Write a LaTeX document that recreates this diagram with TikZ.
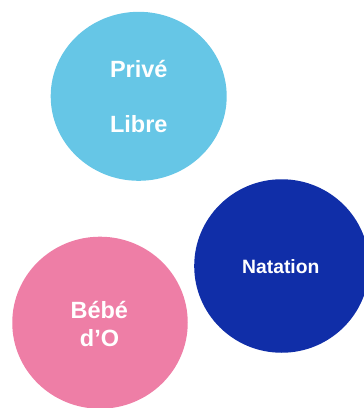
\documentclass[tikz,border=0pt]{standalone}
\usepackage{fontspec}
\setmainfont{Liberation Sans}
\usetikzlibrary{shapes.geometric}
\definecolor{cLight}{HTML}{66C6E6}
\definecolor{cDark}{HTML}{102EA8}
\definecolor{cPink}{HTML}{EE7EA6}
\begin{document}
\begin{tikzpicture}[x=1pt,y=-1pt,
  blob/.style={ellipse,draw=none,inner sep=0pt},
  lbl/.style={text=white,font=\bfseries\fontsize{23.5}{25}\selectfont,anchor=base,inner sep=0pt}]
\useasboundingbox (0,0) rectangle (364,408);
\clip (0,0) rectangle (364,408);
\node[blob,fill=cLight,minimum width=176pt,minimum height=169pt] (c1) at (138.7,96.3) {};
\node[blob,fill=cDark,minimum width=175pt,minimum height=173.5pt] (c2) at (281.7,266) {};
\node[blob,fill=cPink,minimum width=175.5pt,minimum height=172pt] (c3) at (100,322.7) {};
\node[lbl] (t1) at (138.8,77.3) {Privé};
\node[lbl] (t2) at (138.8,132.3) {Libre};
\node[lbl,font=\bfseries\fontsize{19.3}{21}\selectfont] (t3) at (280.8,273.3) {Natation};
\node[lbl] (t4) at (99.3,318.3) {Bébé};
\node[lbl] (t5) at (99.5,346.7) {d’O};
\end{tikzpicture}
\end{document}
